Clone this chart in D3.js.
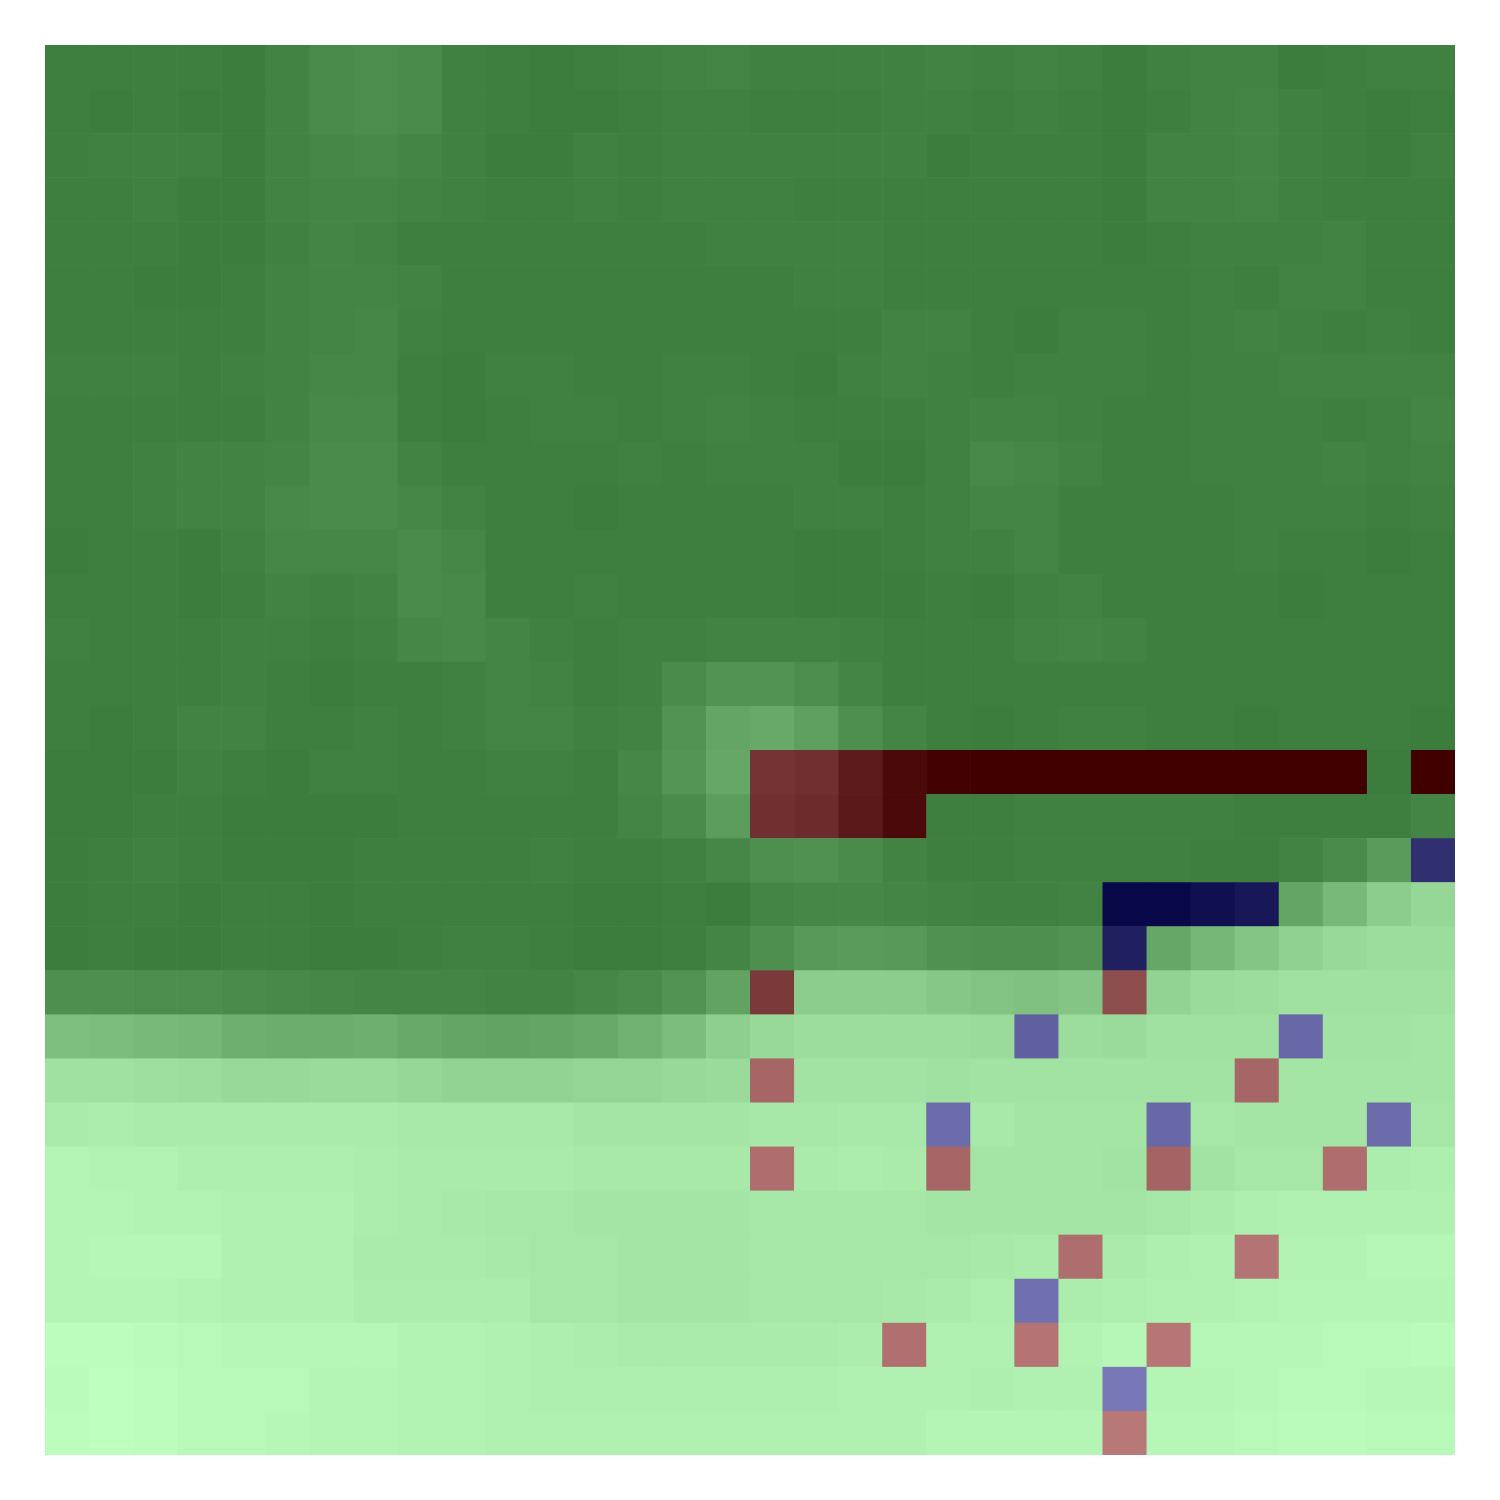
<!DOCTYPE html>
<html>
<head>
<meta charset="utf-8">
<script src="https://cdn.jsdelivr.net/npm/d3@7"></script>
<style>
  html, body { margin: 0; padding: 0; background: #ffffff; }
  svg { display: block; }
</style>
</head>
<body>
<div id="chart"></div>
<script>
// Terrain value per cell (row by row, 32 x 32)
const elevation = [
  [1,1,1,1,0,3,7,8,7,2,1,0,1,2,3,4, 2,2,2,2,3,2,3,2,0,2,3,3,0,1,2,2],
  [1,0,1,0,0,3,7,8,7,2,1,0,0,1,2,2, 1,1,1,2,2,1,2,1,0,1,3,4,2,1,0,1],
  [1,2,2,2,0,3,5,6,4,2,0,0,2,1,2,2, 2,2,2,2,0,1,1,1,0,3,3,4,2,1,0,2],
  [1,1,2,0,0,3,4,4,3,2,1,1,2,1,2,2, 2,1,1,1,1,1,1,1,0,3,3,4,2,1,1,1],
  [1,1,1,0,0,2,4,3,1,1,1,1,1,1,1,2, 2,2,2,1,1,1,1,1,0,1,2,2,2,3,1,1],
  [1,1,0,0,1,3,4,4,3,1,1,1,1,1,1,1, 1,2,2,1,1,1,1,1,1,1,2,1,3,3,1,1],
  [1,1,1,1,1,3,4,5,2,1,1,1,1,1,1,1, 1,1,1,3,3,1,0,2,2,1,2,3,2,1,2,1],
  [2,2,2,1,2,3,5,5,1,0,2,2,1,1,2,2, 1,0,2,3,2,1,2,2,2,1,2,2,3,3,3,3],
  [1,1,1,1,1,3,6,6,1,0,1,2,2,1,2,3, 2,1,1,1,2,3,3,2,1,1,2,2,2,1,2,4],
  [1,1,2,3,3,4,7,7,3,1,1,1,1,2,1,2, 2,2,0,0,2,6,5,3,1,1,2,2,2,3,2,3],
  [1,1,2,3,3,6,7,7,5,3,1,1,0,1,1,1, 1,2,2,1,2,4,4,1,1,1,1,2,2,2,1,2],
  [0,1,1,0,2,5,5,5,7,5,1,1,1,1,1,1, 1,0,0,1,2,2,4,1,1,1,1,2,1,1,0,1],
  [1,1,1,0,1,3,2,3,7,6,1,1,2,1,1,1, 1,0,0,0,1,0,2,3,1,1,1,1,0,1,1,1],
  [2,1,1,1,2,2,1,2,5,6,4,2,1,2,2,3, 3,3,2,1,1,1,3,4,3,1,1,1,1,1,1,1],
  [1,1,1,1,2,1,0,1,1,2,4,3,1,2,7,11, 11,8,4,1,1,1,1,1,1,1,1,1,1,1,1,1],
  [1,0,1,3,3,1,1,2,1,2,4,4,2,3,11,20, 22,17,9,4,1,0,1,2,2,1,1,0,1,1,1,0],
  [0,0,0,2,1,0,2,2,1,1,2,2,1,5,12,21, 26,24,14,5,1,0,0,0,0,0,0,0,0,0,0,0],
  [0,0,1,1,0,0,0,0,1,1,1,1,1,4,7,16, 24,22,13,5,1,1,2,2,2,2,2,1,1,1,1,4],
  [0,1,2,1,0,0,0,1,1,1,1,2,1,1,2,5, 9,10,7,3,1,1,2,2,2,2,1,1,3,7,15,24],
  [0,1,1,0,1,1,0,1,1,1,1,1,0,0,1,0, 4,5,5,4,3,2,2,3,4,4,8,12,20,30,40,45],
  [0,1,0,0,1,1,0,0,1,2,2,1,0,0,1,4, 9,14,15,14,10,9,9,11,16,21,29,36,42,46,48,48],
  [9,9,8,8,7,6,5,4,4,4,3,3,5,7,11,19, 29,40,40,40,37,35,34,36,39,43,47,48,50,50,50,50],
  [33,32,30,29,25,24,24,25,22,20,19,20,22,26,32,41, 46,48,48,48,48,47,48,48,47,50,50,50,52,51,51,52],
  [50,50,49,48,46,46,47,47,45,43,43,43,44,44,46,47, 51,51,51,51,50,51,51,51,51,51,51,51,52,52,52,52],
  [55,56,55,55,55,55,55,55,54,54,54,54,52,52,52,52, 53,53,54,54,54,54,52,52,52,52,53,52,52,52,54,53],
  [60,59,59,57,57,57,57,56,55,55,55,55,54,54,54,54, 55,55,56,55,51,52,52,52,51,50,51,53,53,55,56,57],
  [60,60,59,59,58,58,58,56,55,54,53,53,52,52,52,52, 53,53,53,53,52,52,52,52,52,53,55,57,58,58,58,58],
  [60,61,61,61,58,58,58,55,55,55,54,53,53,52,52,52, 53,53,53,53,53,54,55,55,55,57,58,58,59,59,61,61],
  [60,60,60,59,58,58,58,56,56,56,56,53,53,52,52,52, 53,53,53,54,55,57,56,56,57,58,58,59,60,60,60,60],
  [64,64,63,62,61,61,61,61,59,59,58,57,56,55,55,55, 55,55,56,56,58,58,58,59,61,59,61,61,61,62,62,63],
  [63,65,64,62,62,62,60,60,59,59,58,57,57,57,57,57, 57,57,58,58,58,57,58,58,60,60,60,61,62,62,61,61],
  [64,65,64,62,62,61,60,60,59,59,58,58,58,58,58,58, 58,58,58,58,60,60,60,60,60,61,61,62,63,63,62,62]
];

// Cells marked red: [row, col]
const redCells = [
  [16,16],[16,17],[16,18],[16,19],[16,20],[16,21],[16,22],[16,23],[16,24],
  [16,25],[16,26],[16,27],[16,28],[16,29],[16,31],
  [17,16],[17,17],[17,18],[17,19],
  [21,16],[21,24],
  [23,16],[23,27],
  [25,16],[25,20],[25,25],[25,29],
  [27,23],[27,27],
  [29,19],[29,22],[29,25],
  [31,24]
];

// Cells marked blue: [row, col]
const blueCells = [
  [18,31],
  [19,24],[19,25],[19,26],[19,27],
  [20,24],
  [22,22],[22,28],
  [24,20],[24,25],[24,30],
  [28,22],
  [30,24]
];

const W = 1500, H = 1500;
const nRows = elevation.length, nCols = elevation[0].length;

const svg = d3.select("#chart").append("svg")
  .attr("width", W).attr("height", H)
  .style("background", "#ffffff");

const x = d3.scaleBand().domain(d3.range(nCols)).range([45, 1455]).padding(0);
const y = d3.scaleBand().domain(d3.range(nRows)).range([45, 1455]).padding(0);

const green = d3.scaleLinear().domain([0, 65]).range(["#3c7c3c", "#befebe"]);
const red   = d3.scaleLinear().domain([0, 65]).range(["#400000", "#c28282"]);
const blue  = d3.scaleLinear().domain([0, 65]).range(["#000040", "#8282c2"]);

const kind = new Map();
redCells.forEach(([r, c]) => kind.set(r + "," + c, "red"));
blueCells.forEach(([r, c]) => kind.set(r + "," + c, "blue"));

const cells = [];
elevation.forEach((row, r) => row.forEach((v, c) => {
  cells.push({ r, c, v, k: kind.get(r + "," + c) || "green" });
}));

const colorOf = d => d.k === "red" ? red(d.v) : d.k === "blue" ? blue(d.v) : green(d.v);

svg.append("g")
  .selectAll("rect")
  .data(cells)
  .join("rect")
  .attr("x", d => x(d.c))
  .attr("y", d => y(d.r))
  .attr("width", x.bandwidth() + 0.6)
  .attr("height", y.bandwidth() + 0.6)
  .attr("fill", colorOf);

// clip overhang at right/bottom edges
svg.append("rect").attr("x", 1455).attr("y", 0).attr("width", 45).attr("height", H).attr("fill", "#fff");
svg.append("rect").attr("x", 0).attr("y", 1455).attr("width", W).attr("height", 45).attr("fill", "#fff");
</script>
</body>
</html>
